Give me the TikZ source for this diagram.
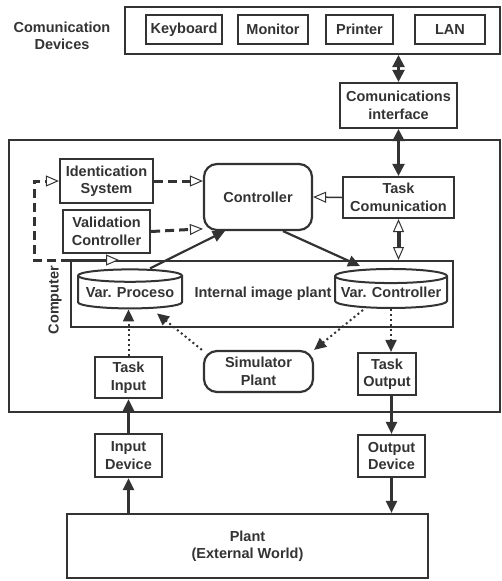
\documentclass[tikz,border=0pt]{standalone}
\usepackage{fontspec}
\setmainfont{Liberation Sans}
\usetikzlibrary{arrows.meta,shapes.geometric}

\definecolor{ink}{HTML}{333333}

\begin{document}
\begin{tikzpicture}[x=1pt,y=-1pt]
	\tikzset{
		every node/.style={font=\fontsize{14.5}{17.5}\selectfont\bfseries, text=ink, align=center},
		box/.style={draw=ink, line width=2.2pt, inner sep=0pt},
		rbox/.style={box, rounded corners=13pt},
		tank/.style={draw=ink, line width=2pt, cylinder, shape border rotate=90, aspect=0.14, inner sep=0pt},
		tip/.style={Triangle[length=12pt,width=11pt]},
		link/.style={draw=ink, line width=2.2pt, -{Triangle[length=12pt,width=11pt]}},
		twoway/.style={link, {Triangle[length=12pt,width=12pt]}-{Triangle[length=12pt,width=12pt]}},
		hollow/.style={draw=ink, line width=1.5pt, -{Triangle[open,length=13pt,width=11pt,line width=1pt,fill=white]}},
		dashlink/.style={hollow, line width=3pt, dash pattern=on 9pt off 5pt},
		dotlink/.style={link, line width=2pt, dash pattern=on 2pt off 3pt}
	}
	\useasboundingbox (0,0) rectangle (502,581);
	% communication devices
	\node[box, line width=2pt, minimum width=375, minimum height=47] (devs) at (312.5,30.5) {};
	\node (devlabel) at (62,36) {Comunication\\Devices};
	\node[box, minimum width=76, minimum height=29] (kbd) at (184,29.5) {Keyboard};
	\node[box, minimum width=70, minimum height=29] (mon) at (273,29.5) {Monitor};
	\node[box, minimum width=67, minimum height=29] (prn) at (359.5,29.5) {Printer};
	\node[box, minimum width=70, minimum height=29] (lan) at (450,29.5) {LAN};
	\node[box, minimum width=117, minimum height=45] (comif) at (398.5,105.5) {Comunications\\interface};
	% computer
	\node[box, line width=2pt, minimum width=491, minimum height=272] (computer) at (254.5,276) {};
	\node[rotate=90] (complabel) at (55,300) {Computer};
	\node[box, minimum width=111, minimum height=41] (taskcom) at (398.5,197.5) {Task\\Comunication};
	\node[rbox, minimum width=108, minimum height=66] (ctrl) at (258,197) {Controller};
	\node[box, minimum width=93, minimum height=44] (idsys) at (106.5,181) {Identication\\System};
	\node[box, minimum width=87, minimum height=43] (valctrl) at (106.5,231.5) {Validation\\Controller};
	\node[box, line width=2pt, minimum width=382, minimum height=66] (inner) at (262,294) {};
	\node (innerlabel) at (263,294) {Internal image plant};
	\node[tank, minimum width=104, minimum height=39] (varproc) at (130,292.5) {Var. Proceso};
	\node[tank, minimum width=112, minimum height=39] (varctrl) at (391,292.5) {Var. Controller};
	\node[rbox, minimum width=109, minimum height=41] (sim) at (258.5,371.5) {Simulator\\Plant};
	\node[box, minimum width=67, minimum height=41] (taskin) at (128.5,377.5) {Task\\Input};
	\node[box, minimum width=58, minimum height=42] (taskout) at (387,374) {Task\\Output};
	% outside
	\node[box, minimum width=67, minimum height=43] (indev) at (128.5,455.5) {Input\\Device};
	\node[box, minimum width=67, minimum height=42] (outdev) at (391.5,456) {Output\\Device};
	\node[box, minimum width=361, minimum height=64] (plant) at (247.5,546) {Plant\\(External World)};

	\draw[twoway] (comif.north |- devs.south) -- (comif.north);
	\draw[twoway] (comif.south) -- (taskcom.north);
	\draw[hollow] (taskcom.west) -- (ctrl.east);
	\draw[dashlink] (idsys.east) -- (idsys.east -| ctrl.west);
	\draw[dashlink] (valctrl.east) -- (ctrl.210);
	\draw[dashlink] (inner.north west) -- ++(-36,0) |- (idsys.west);
	\draw[hollow] (inner.north west) -- ++(49,0);
	\draw[hollow, line width=4pt, {Triangle[open,length=13pt,width=11pt,line width=1pt,fill=white]}-{Triangle[open,length=13pt,width=11pt,line width=1pt,fill=white]}]
		(taskcom.south) -- (taskcom.south |- inner.north);
	\draw[link] ([xshift=20pt]varproc.north) -- ([xshift=22pt]ctrl.south west);
	\draw[link] ([xshift=25pt]ctrl.south) -- ([xshift=-31pt,yshift=2pt]varctrl.north);
	\draw[dotlink] (taskin.north) -- (taskin.north |- varproc.south);
	\draw[dotlink] ([xshift=-1pt]sim.north west) -- ([xshift=27pt,yshift=-4pt]varproc.south);
	\draw[dotlink] ([xshift=-28pt,yshift=-1pt]varctrl.south) -- (sim.north east);
	\draw[dotlink] (varctrl.south) -- (varctrl.south |- taskout.north);
	\draw[link] (outdev.north |- taskout.south) -- (outdev.north);
	\draw[link] (indev.north) -- (taskin.south);
	\draw[link] (indev.south |- plant.north) -- (indev.south);
	\draw[link] (outdev.south) -- (outdev.south |- plant.north);
\end{tikzpicture}
\end{document}
